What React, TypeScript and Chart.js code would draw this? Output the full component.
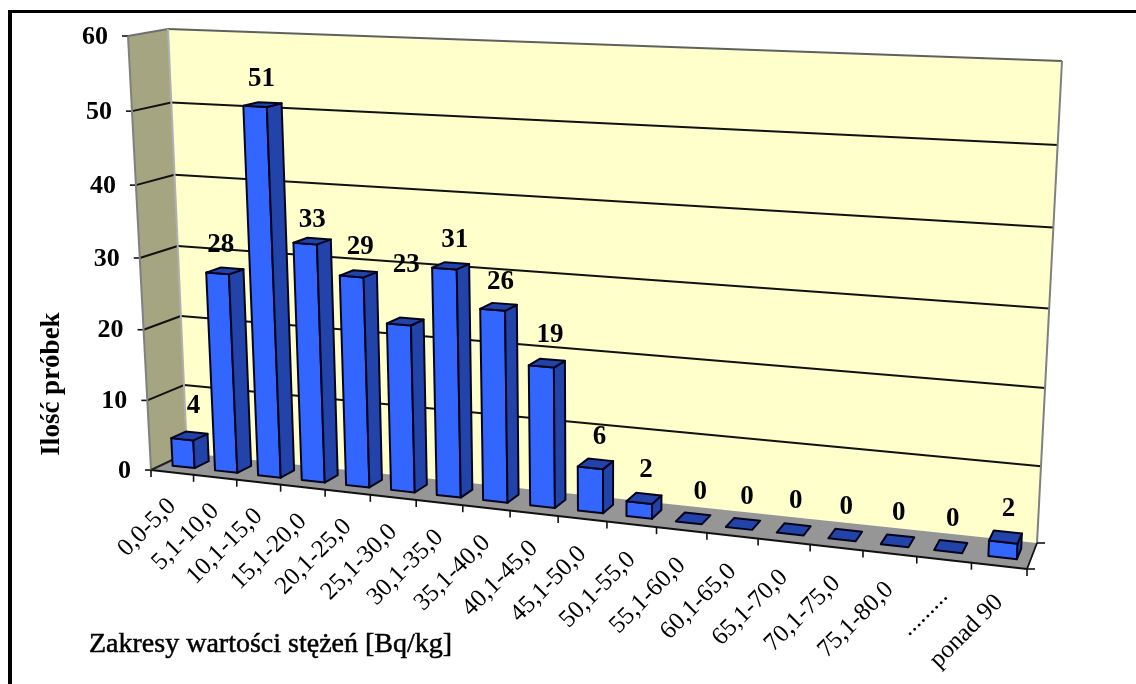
import { useEffect, useRef } from "react";
import { Chart, registerables } from "chart.js";

Chart.register(...registerables);

const categories = [
  "0,0-5,0", "5,1-10,0", "10,1-15,0", "15,1-20,0", "20,1-25,0", "25,1-30,0",
  "30,1-35,0", "35,1-40,0", "40,1-45,0", "45,1-50,0", "50,1-55,0", "55,1-60,0",
  "60,1-65,0", "65,1-70,0", "70,1-75,0", "75,1-80,0", ".........", "ponad 90",
];
const sampleCounts = [4, 28, 51, 33, 29, 23, 31, 26, 19, 6, 2, 0, 0, 0, 0, 0, 0, 2];
const valueTicks = [0, 10, 20, 30, 40, 50, 60];

const yTitle = "Ilość próbek";
const xTitle = "Zakresy wartości stężeń [Bq/kg]";

type P = [number, number];
type Quad = [P, P, P, P];

// Corners of the box in canvas pixels, ordered (0,0) (1,0) (1,1) (0,1) in (u, v).
const FRONT: Quad = [[151, 470], [1027, 569], [1048, 71], [128, 36]];
const BACK: Quad = [[187, 453], [1037, 543], [1062, 61], [168, 29]];

const BAR_NEAR = 0.32;
const BAR_FAR = 0.72;

// Placement of the count labels relative to the top of their bars.
const LABEL_SHIFT_X = [4, -4, -1, 0, 2, 1, 4, 2, 3, 4, 2, 7, 4, 2, 1, 1, 2, 3];
const LABEL_LIFT = [30, 26, 26, 21, 27, 56, 26, 25, 28, 27, 28, 26, 27, 28, 28, 28, 28, 28];

const SERIF = '"Liberation Serif", "Times New Roman", serif';
const WALL_BACK = "#FFFFCC";
const WALL_SIDE = "#A5A582";
const FLOOR = "#969696";
const EDGE = "#808080";
const BAR_FRONT = "#3366FF";
const BAR_SHADE = "#2244AA";
const BAR_LINE = "#04041C";

// Perspective map from the unit square onto a quadrilateral.
function quadMapper(q: Quad) {
  const [[x0, y0], [x1, y1], [x2, y2], [x3, y3]] = q;
  const dx1 = x1 - x2, dx2 = x3 - x2, sx = x0 - x1 + x2 - x3;
  const dy1 = y1 - y2, dy2 = y3 - y2, sy = y0 - y1 + y2 - y3;
  const den = dx1 * dy2 - dx2 * dy1;
  const g = (sx * dy2 - dx2 * sy) / den;
  const h = (dx1 * sy - sx * dy1) / den;
  const a = x1 - x0 + g * x1, b = x3 - x0 + h * x3;
  const d = y1 - y0 + g * y1, e = y3 - y0 + h * y3;
  return (u: number, v: number): P => {
    const w = g * u + h * v + 1;
    return [(a * u + b * v + x0) / w, (d * u + e * v + y0) / w];
  };
}
const mapFront = quadMapper(FRONT);
const mapBack = quadMapper(BACK);

// u: along the categories, v: up the value axis, d: 0 at the front, 1 at the back wall.
function project(u: number, v: number, d: number): P {
  const f = mapFront(u, v);
  const b = mapBack(u, v);
  return [f[0] + (b[0] - f[0]) * d, f[1] + (b[1] - f[1]) * d];
}

function face(ctx: CanvasRenderingContext2D, pts: P[], fill: string | null, stroke: string | null, lw = 2) {
  ctx.beginPath();
  pts.forEach((p, i) => (i ? ctx.lineTo(p[0], p[1]) : ctx.moveTo(p[0], p[1])));
  ctx.closePath();
  if (fill) {
    ctx.fillStyle = fill;
    ctx.fill();
  }
  if (stroke) {
    ctx.strokeStyle = stroke;
    ctx.lineWidth = lw;
    ctx.stroke();
  }
}

function segment(ctx: CanvasRenderingContext2D, a: P, b: P, color: string, lw: number) {
  ctx.beginPath();
  ctx.moveTo(a[0], a[1]);
  ctx.lineTo(b[0], b[1]);
  ctx.strokeStyle = color;
  ctx.lineWidth = lw;
  ctx.stroke();
}

const box3d = {
  id: "box3d",
  beforeDraw(chart: any) {
    const { ctx, width, height } = chart;
    const area = chart.chartArea;
    const xs = chart.scales.x;
    const ys = chart.scales.y;
    const toV = (val: number) => (area.bottom - ys.getPixelForValue(val)) / (area.bottom - area.top);
    const toU = (px: number) => (px - area.left) / (area.right - area.left);

    ctx.save();
    ctx.fillStyle = "#FFFFFF";
    ctx.fillRect(0, 0, width, height);

    // Outer frame: only its top and left sides fall inside the canvas.
    ctx.fillStyle = "#000000";
    ctx.fillRect(8, 10, width - 8, 3);
    ctx.fillRect(8, 10, 4, height - 10);

    ctx.lineJoin = "round";

    // Walls and floor.
    face(ctx, [project(0, 0, 1), project(1, 0, 1), project(1, 1, 1), project(0, 1, 1)], WALL_BACK, null);
    face(ctx, [project(0, 0, 0), project(0, 0, 1), project(0, 1, 1), project(0, 1, 0)], WALL_SIDE, null);
    face(ctx, [project(0, 0, 0), project(1, 0, 0), project(1, 0, 1), project(0, 0, 1)], FLOOR, null);

    // Horizontal grid across the two walls, with a tick on the front edge.
    for (const t of valueTicks) {
      const v = toV(t);
      const front = project(0, v, 0);
      const corner = project(0, v, 1);
      const right = project(1, v, 1);
      if (t > 0 && t < 60) {
        segment(ctx, front, corner, "#111111", 2);
        segment(ctx, corner, right, "#111111", 2);
      }
      segment(ctx, [front[0] - 6, front[1]], front, "#111111", 1.6);
    }

    // Wall outlines.
    segment(ctx, project(0, 1, 0), project(0, 1, 1), "#707070", 2);
    segment(ctx, project(0, 1, 1), project(1, 1, 1), "#606060", 2);
    segment(ctx, project(1, 1, 1), project(1, 0, 1), EDGE, 2);
    segment(ctx, project(0, 1, 1), project(0, 0, 1), "#B0B0B0", 2);
    segment(ctx, project(0, 1, 0), project(0, 0, 0), EDGE, 2);

    // Floor outline and category ticks.
    segment(ctx, project(0, 0, 0), project(1, 0, 0), "#111111", 2.2);
    segment(ctx, project(0, 0, 0), project(0, 0, 1), "#222222", 2);
    segment(ctx, project(1, 0, 0), project(1, 0, 1), "#111111", 1.8);
    const depthTicks: P[] = [project(1, 0, 0), project(1, 0, 1)];
    depthTicks.forEach((p) => segment(ctx, p, [p[0] + 8, p[1]], "#111111", 1.6));
    for (let i = 0; i <= categories.length; i++) {
      const p = project(toU(xs.getPixelForValue(i - 0.5)), 0, 0);
      segment(ctx, p, [p[0], p[1] + 7], "#111111", 1.6);
    }
    ctx.restore();
  },
  beforeDatasetDraw(chart: any, args: any) {
    const { ctx } = chart;
    const area = chart.chartArea;
    const toU = (px: number) => (px - area.left) / (area.right - area.left);
    const toV = (py: number) => (area.bottom - py) / (area.bottom - area.top);
    ctx.save();
    ctx.lineJoin = "round";
    args.meta.data.forEach((el: any) => {
      const u0 = toU(el.x - el.width / 2);
      const u1 = toU(el.x + el.width / 2);
      const v = toV(el.y);
      const v0 = toV(el.base);
      if (v > v0) {
        face(ctx, [project(u0, v0, BAR_NEAR), project(u1, v0, BAR_NEAR), project(u1, v, BAR_NEAR), project(u0, v, BAR_NEAR)], BAR_FRONT, BAR_LINE);
        face(ctx, [project(u1, v0, BAR_NEAR), project(u1, v0, BAR_FAR), project(u1, v, BAR_FAR), project(u1, v, BAR_NEAR)], BAR_SHADE, BAR_LINE);
      }
      face(ctx, [project(u0, v, BAR_NEAR), project(u1, v, BAR_NEAR), project(u1, v, BAR_FAR), project(u0, v, BAR_FAR)], BAR_SHADE, BAR_LINE);
    });
    ctx.restore();
    return false;
  },
  afterDatasetsDraw(chart: any) {
    const { ctx } = chart;
    const area = chart.chartArea;
    const xs = chart.scales.x;
    const ys = chart.scales.y;
    const toU = (px: number) => (px - area.left) / (area.right - area.left);
    const toV = (py: number) => (area.bottom - py) / (area.bottom - area.top);
    const els = chart.getDatasetMeta(0).data;

    ctx.save();
    ctx.fillStyle = "#000000";

    // Value tick labels beside the front edge of the side wall.
    ctx.font = `bold 26px ${SERIF}`;
    ctx.textAlign = "right";
    ctx.textBaseline = "middle";
    for (const t of valueTicks) {
      const p = project(0, toV(ys.getPixelForValue(t)), 0);
      ctx.fillText(String(t), p[0] - 20, p[1] + 1);
    }

    // Count above each bar, centred over its top face.
    ctx.font = `bold 27px ${SERIF}`;
    ctx.textAlign = "center";
    els.forEach((el: any, i: number) => {
      const u = toU(el.x);
      const top = project(u, toV(el.y), (BAR_NEAR + BAR_FAR) / 2);
      ctx.fillText(String(sampleCounts[i]), top[0] + LABEL_SHIFT_X[i], top[1] - LABEL_LIFT[i]);
    });

    // Slanted category labels under the floor.
    ctx.font = `25px ${SERIF}`;
    ctx.textAlign = "right";
    categories.forEach((label, i) => {
      const u = toU(xs.getPixelForValue(i));
      const p = project(u, 0, 0);
      ctx.save();
      ctx.translate(p[0], p[1] + 30 + 3 * u);
      ctx.rotate(-Math.PI / 4);
      ctx.fillText(label, 0, 0);
      ctx.restore();
    });

    // Axis titles.
    ctx.font = `bold 27px ${SERIF}`;
    ctx.textAlign = "center";
    ctx.save();
    ctx.translate(52, 384);
    ctx.rotate(-Math.PI / 2);
    ctx.fillText(yTitle, 0, 0);
    ctx.restore();
    ctx.font = `28px ${SERIF}`;
    ctx.textAlign = "left";
    ctx.strokeStyle = "#000000";
    ctx.lineWidth = 0.5;
    ctx.fillText(xTitle, 89, 645);
    ctx.strokeText(xTitle, 89, 645);
    ctx.restore();
  },
};

export default function App() {
  const ref = useRef<HTMLCanvasElement>(null);
  useEffect(() => {
    document.body.style.margin = "0";
    const chart = new Chart(ref.current!, {
      type: "bar",
      data: {
        labels: categories,
        datasets: [{ data: sampleCounts, barPercentage: 0.52, categoryPercentage: 1 }],
      },
      options: {
        animation: false,
        responsive: false,
        layout: { padding: 0 },
        plugins: { legend: { display: false }, tooltip: { enabled: false } },
        scales: {
          x: { display: false },
          y: { display: false, min: 0, max: 60, ticks: { stepSize: 10 } },
        },
      },
      plugins: [box3d],
    } as any);
    return () => chart.destroy();
  }, []);
  return <canvas ref={ref} width={1136} height={684} style={{ display: "block" }} />;
}
